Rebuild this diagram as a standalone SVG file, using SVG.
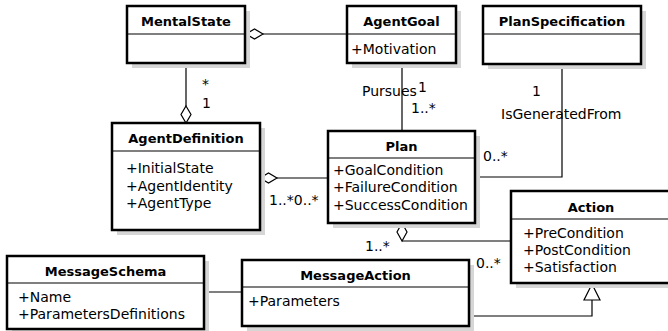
<svg xmlns="http://www.w3.org/2000/svg" width="668" height="331" viewBox="0 0 668 331">
<style>
text{font-family:"DejaVu Sans","Liberation Sans",sans-serif;font-size:14px;fill:#000}
.t{font-weight:bold;text-anchor:middle;font-size:13px}
.box{fill:#fff;stroke:#000;stroke-width:2.5}
.sh{fill:#d6d6d6}
.div{stroke:#000;stroke-width:1.2}
.c{fill:none;stroke:#000;stroke-width:1.2}
.dia{fill:#fff;stroke:#000;stroke-width:1.2}
.lbl{font-size:14px}
</style>
<rect width="668" height="331" fill="#fff"/>
<g id="connectors">
<line class="c" x1="263" y1="34" x2="347" y2="34"/>
<polygon class="dia" points="246,34 254.5,29 263,34 254.5,39"/>
<line class="c" x1="186" y1="63" x2="186" y2="106"/>
<polygon class="dia" points="186,106 191,114.5 186,123 181,114.5"/>
<line class="c" x1="277" y1="178" x2="328" y2="178"/>
<polygon class="dia" points="260,178 268.5,173 277,178 268.5,183"/>
<line class="c" x1="402" y1="63" x2="402" y2="131"/>
<polyline class="c" points="562,64 562,177 475,177"/>
<polyline class="c" points="402,241 511,241"/>
<polygon class="dia" points="402,223 407,232 402,241 397,232"/>
<line class="c" x1="204" y1="292" x2="242" y2="292"/>
<polyline class="c" points="469,316 592,316 592,300"/>
<polygon class="dia" points="592,284 600,300 584,300"/>
<text class="lbl" x="202" y="89">*</text>
<text class="lbl" x="202" y="108">1</text>
<text class="lbl" x="362" y="96">Pursues</text>
<text class="lbl" x="418" y="92">1</text>
<text class="lbl" x="411" y="113">1..*</text>
<text class="lbl" x="532" y="96">1</text>
<text class="lbl" x="501" y="119">IsGeneratedFrom</text>
<text class="lbl" x="483" y="161">0..*</text>
<text class="lbl" x="269" y="205">1..*0..*</text>
<text class="lbl" x="365" y="251">1..*</text>
<text class="lbl" x="476" y="268">0..*</text>
</g>
<g id="MentalState">
<rect class="sh" x="132" y="11" width="118" height="57"/>
<rect class="box" x="127" y="6" width="118" height="57"/>
<line class="div" x1="127" y1="34" x2="245" y2="34"/>
<text class="t" x="186" y="26">MentalState</text>
</g>
<g id="AgentGoal">
<rect class="sh" x="352" y="11" width="109" height="57"/>
<rect class="box" x="347" y="6" width="109" height="57"/>
<line class="div" x1="347" y1="34" x2="456" y2="34"/>
<text class="t" x="401.5" y="26">AgentGoal</text>
<text x="351" y="54">+Motivation</text>
</g>
<g id="PlanSpecification">
<rect class="sh" x="488" y="11" width="158" height="58"/>
<rect class="box" x="483" y="6" width="158" height="58"/>
<line class="div" x1="483" y1="34" x2="641" y2="34"/>
<text class="t" x="562" y="26">PlanSpecification</text>
</g>
<g id="AgentDefinition">
<rect class="sh" x="117" y="128" width="148" height="107"/>
<rect class="box" x="112" y="123" width="148" height="107"/>
<line class="div" x1="112" y1="151" x2="260" y2="151"/>
<text class="t" x="186" y="143">AgentDefinition</text>
<text x="126" y="173">+InitialState</text>
<text x="126" y="191">+AgentIdentity</text>
<text x="126" y="208">+AgentType</text>
</g>
<g id="Plan">
<rect class="sh" x="333" y="136" width="147" height="92"/>
<rect class="box" x="328" y="131" width="147" height="92"/>
<line class="div" x1="328" y1="158" x2="475" y2="158"/>
<text class="t" x="401.5" y="151">Plan</text>
<text x="333" y="175">+GoalCondition</text>
<text x="333" y="192">+FailureCondition</text>
<text x="333" y="210">+SuccessCondition</text>
</g>
<g id="Action">
<rect class="sh" x="516" y="196" width="160" height="92"/>
<rect class="box" x="511" y="191" width="160" height="92"/>
<line class="div" x1="511" y1="219" x2="671" y2="219"/>
<text class="t" x="591" y="212">Action</text>
<text x="523" y="238">+PreCondition</text>
<text x="523" y="255">+PostCondition</text>
<text x="523" y="272">+Satisfaction</text>
</g>
<g id="MessageSchema">
<rect class="sh" x="12" y="261" width="197" height="73"/>
<rect class="box" x="7" y="256" width="197" height="73"/>
<line class="div" x1="7" y1="283" x2="204" y2="283"/>
<text class="t" x="105.5" y="276">MessageSchema</text>
<text x="18" y="302">+Name</text>
<text x="18" y="319">+ParametersDefinitions</text>
</g>
<g id="MessageAction">
<rect class="sh" x="247" y="265" width="227" height="66"/>
<rect class="box" x="242" y="260" width="227" height="66"/>
<line class="div" x1="242" y1="287" x2="469" y2="287"/>
<text class="t" x="355.5" y="280">MessageAction</text>
<text x="248" y="306">+Parameters</text>
</g>
</svg>
